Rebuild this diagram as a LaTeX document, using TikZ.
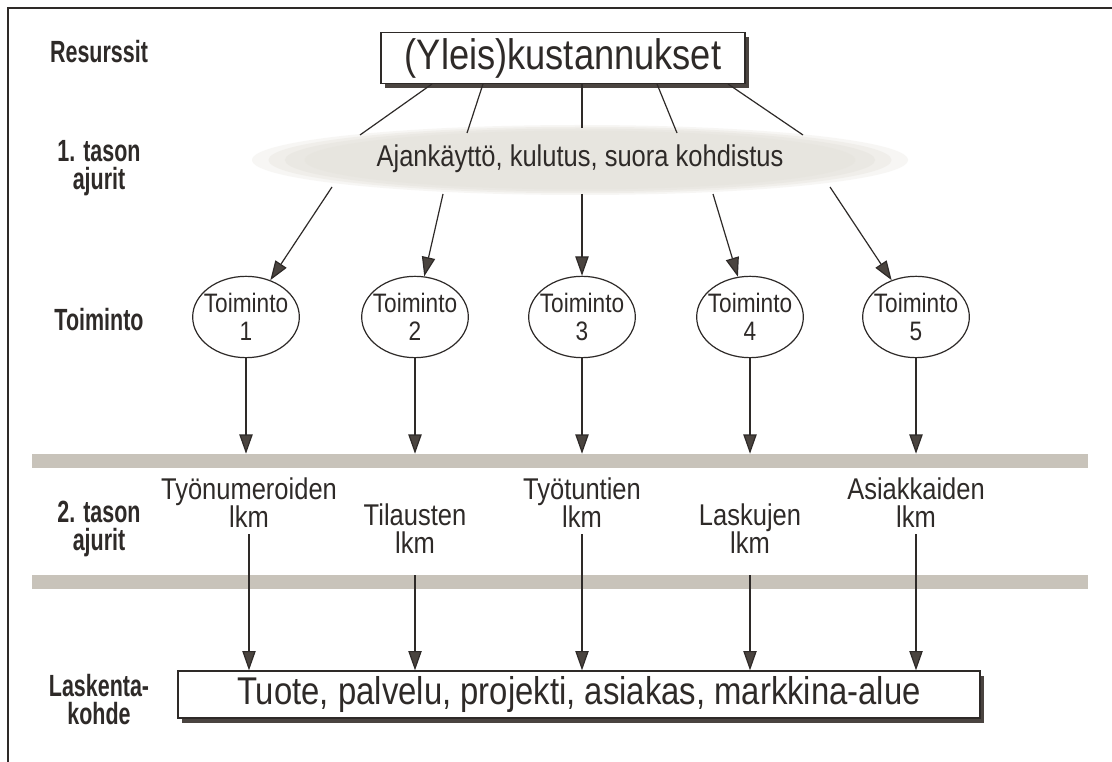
\documentclass[tikz,border=0pt]{standalone}
\usepackage{fontspec}
\setmainfont{Liberation Sans}[FakeStretch=0.85]
\newfontfamily\lblfont{Liberation Sans Bold}[FakeStretch=0.70]
\usetikzlibrary{shapes.geometric,arrows.meta,shadows}
\definecolor{ink}{HTML}{2E2A28}
\definecolor{tipc}{HTML}{4A443F}
\definecolor{bandc}{HTML}{C8C3BA}
\definecolor{cloudc}{HTML}{E6E4DD}
\definecolor{shad}{HTML}{4A4440}
\begin{document}
\begin{tikzpicture}[x=0.75pt,y=-0.75pt,
  lbl/.style={font=\lblfont\fontsize{23}{21}\selectfont, align=center, text=ink, inner sep=0pt},
  mid/.style={font=\fontsize{22.5}{21}\selectfont, align=center, text=ink, inner sep=0pt},
  acttext/.style={font=\fontsize{20}{21}\selectfont, align=center, text=ink, inner sep=0pt},
  bigbox/.style={rectangle, draw=ink, line width=1pt, fill=white, inner sep=0pt, text=ink,
     drop shadow={shadow xshift=3pt, shadow yshift=-3.5pt, fill=shad, opacity=1}},
  act/.style={ellipse, draw=ink, line width=0.9pt, minimum width=80pt, minimum height=61pt, inner sep=0pt},
  band/.style={rectangle, fill=bandc, draw=none, minimum width=792pt, minimum height=10.5pt, inner sep=0pt},
  conn/.style={draw=ink, line width=0.9pt},
  arr/.style={conn, -{Triangle[length=14.5pt,width=10pt,fill=tipc]}}
]
\useasboundingbox (0,0) rectangle (1112,762);
\fill[white] (0,0) rectangle (1112,762);
\draw[ink, line width=1.2pt] (8,762) -- (8,8) -- (1112,8);

% left labels
\node[lbl] (L1) at (99,52) {Resurssit};
\node[lbl] (L2) at (99,168) {1. tason\\ajurit};
\node[lbl] (L3) at (99,320) {Toiminto};
\node[lbl] (L4) at (99,529) {2. tason\\ajurit};
\node[lbl] (L5) at (99,700) {Laskenta-\\kohde};

% top box
\node[bigbox, minimum width=273pt, minimum height=38pt, font=\fontsize{32}{34}\selectfont] (top) at (563,58) {(Yleis)kustannukset};

% cloud
\foreach \s/\o in {1.0/0.3,0.95/0.4,0.9/0.5,0.84/0.6}{
  \fill[cloudc, opacity=\o] (580,160) ellipse [x radius={328*\s}, y radius={35*\s}];
}
\node[mid] (cloud) at (580,159) {Ajankäyttö, kulutus, suora kohdistus};

% upper lines
\coordinate (a1) at (432,84); \coordinate (b1) at (360,135);
\coordinate (a2) at (483,84); \coordinate (b2) at (467,133);
\coordinate (a3) at (582,84); \coordinate (b3) at (582,128);
\coordinate (a4) at (657,84); \coordinate (b4) at (677,133);
\coordinate (a5) at (728,84); \coordinate (b5) at (803,135);
\foreach \i in {1,...,5}{ \draw[conn] (a\i) -- (b\i); }

% activities
\node[act] (t1) at (246,317) {};
\node[act] (t2) at (415,317) {};
\node[act] (t3) at (582,317) {};
\node[act] (t4) at (750,317) {};
\node[act] (t5) at (916,317) {};
\foreach \i in {1,...,5}{ \node[acttext] (tt\i) at (t\i) {Toiminto\\\i}; }

% lower cloud arrows
\coordinate (c1) at (332,187);
\coordinate (c2) at (443,194);
\coordinate (c3) at (582,194);
\coordinate (c4) at (713,194);
\coordinate (c5) at (830,187);
\foreach \i in {1,...,5}{ \draw[arr] (c\i) -- (t\i); }

% bands
\node[band] (band1) at (560,461) {};
\node[band] (band2) at (560,581.5) {};

\foreach \i in {1,...,5}{ \draw[arr] (t\i) -- (t\i |- band1.north); }

% level 2 texts
\node[mid] (d1) at (249,503) {Työnumeroiden\\lkm};
\node[mid] (d2) at (415,529) {Tilausten\\lkm};
\node[mid] (d3) at (582,503) {Työtuntien\\lkm};
\node[mid] (d4) at (750,529) {Laskujen\\lkm};
\node[mid] (d5) at (916,503) {Asiakkaiden\\lkm};

% bottom box
\node[bigbox, minimum width=601.5pt, minimum height=35.25pt, font=\fontsize{29}{31}\selectfont] (bot) at (579,694.5) {Tuote, palvelu, projekti, asiakas, markkina-alue};

\coordinate (e1) at (249,534);
\coordinate (e2) at (415,575);
\coordinate (e3) at (582,534);
\coordinate (e4) at (750,575);
\coordinate (e5) at (916,534);
\foreach \i in {1,...,5}{ \draw[arr] (e\i) -- (e\i |- bot.north); }
\end{tikzpicture}
\end{document}
